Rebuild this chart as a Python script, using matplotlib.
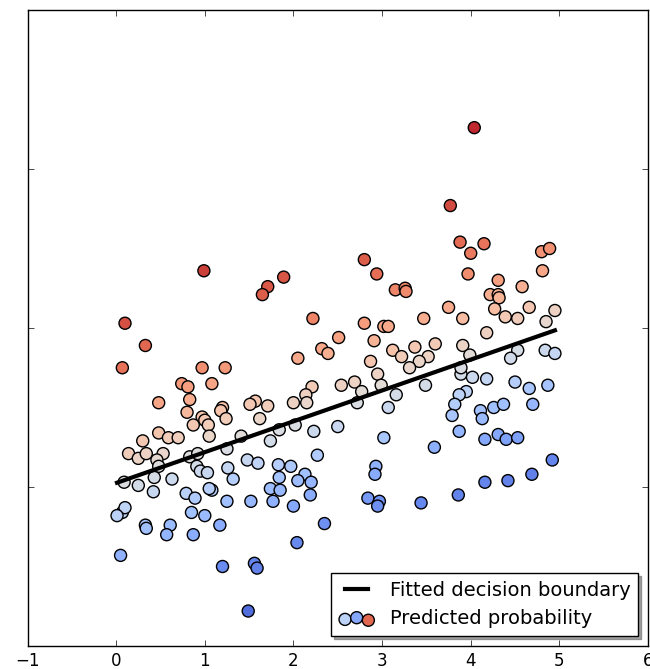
import numpy as np
import matplotlib
matplotlib.use('Agg')
import matplotlib.pyplot as plt

plt.style.use('classic')

# points (x, y); y axis is unlabelled so units are arbitrary
x = [0.07, 2.00, 0.33,
     4.04, 3.77, 3.88, 4.15, 4.00, 4.80, 4.89, 2.80, 2.94, 3.15, 3.26, 3.27, 3.97, 4.31,
     4.22, 4.31, 4.32, 4.58, 4.81, 3.75, 3.91, 3.47, 4.27, 4.39, 4.53, 4.66, 4.85, 4.95,
     2.80, 3.02, 3.07, 2.51, 2.91, 4.18, 3.12, 3.22, 3.37, 3.60, 3.52, 3.42, 3.31, 2.87,
     2.95, 3.91, 3.99, 4.53, 4.45, 4.84, 4.95, 2.54, 2.69, 2.77, 2.99, 3.16, 3.49, 3.89,
     3.89, 4.02, 4.18, 4.50, 4.66, 4.87, 3.95, 3.87, 3.82, 3.79, 3.87, 2.72, 3.07, 4.11,
     4.26, 4.37, 4.70, 4.13, 2.50, 3.02, 3.59, 4.16, 4.31, 4.40, 4.53, 2.93, 2.92, 4.92,
     4.69, 4.42, 4.16, 3.86, 3.44, 2.84, 2.97, 2.95,
     0.99, 1.71, 1.65, 1.89, 0.10, 2.22, 0.07, 0.97, 1.23, 1.08, 2.05, 2.32, 2.39, 0.74,
     0.81, 0.83, 0.48, 2.21, 2.14, 2.15, 2.00, 1.57, 1.51, 1.71, 1.20, 0.80, 0.97, 1.00,
     1.04, 1.18, 1.24, 0.87, 1.62, 1.05, 0.48, 0.59, 0.70, 0.30, 0.14, 0.25, 0.34, 0.53,
     0.46, 1.41, 1.84, 2.02, 2.23, 1.74, 1.25, 0.83, 0.92, 0.48, 0.43, 0.25, 0.09, 0.63,
     0.42, 0.91, 0.95, 1.03, 1.26, 1.32, 1.48, 1.60, 1.83, 1.97, 1.84, 2.27, 2.13, 2.05,
     2.20, 1.74, 1.85, 2.19, 1.77, 1.52, 1.25, 1.08, 1.05, 0.79, 0.89, 0.10, 0.01, 0.33,
     0.34, 0.61, 0.57, 0.85, 1.00, 0.87, 1.17, 2.35, 2.04, 0.05, 1.20, 1.56, 1.59, 1.49]
y = [-0.16, -0.12, 0.89,
     2.26, 1.77, 1.54, 1.53, 1.47, 1.48, 1.50, 1.43, 1.34, 1.24, 1.25, 1.23, 1.34, 1.30,
     1.21, 1.21, 1.19, 1.26, 1.36, 1.13, 1.06, 1.06, 1.12, 1.07, 1.06, 1.13, 1.04, 1.11,
     1.03, 1.01, 1.01, 0.94, 0.92, 0.97, 0.86, 0.82, 0.88, 0.90, 0.82, 0.79, 0.75, 0.79,
     0.71, 0.89, 0.83, 0.86, 0.81, 0.86, 0.84, 0.64, 0.66, 0.60, 0.64, 0.58, 0.64, 0.71,
     0.75, 0.69, 0.68, 0.66, 0.62, 0.64, 0.60, 0.58, 0.52, 0.45, 0.35, 0.53, 0.50, 0.48,
     0.50, 0.52, 0.52, 0.43, 0.38, 0.31, 0.25, 0.30, 0.33, 0.30, 0.31, 0.13, 0.08, 0.17,
     0.08, 0.04, 0.03, -0.05, -0.10, -0.07, -0.09, -0.12,
     1.36, 1.26, 1.21, 1.32, 1.03, 1.06, 0.75, 0.75, 0.75, 0.65, 0.81, 0.87, 0.84, 0.65,
     0.63, 0.55, 0.53, 0.63, 0.58, 0.53, 0.53, 0.54, 0.52, 0.51, 0.50, 0.47, 0.44, 0.42,
     0.39, 0.48, 0.43, 0.39, 0.43, 0.32, 0.34, 0.31, 0.31, 0.29, 0.21, 0.18, 0.21, 0.21,
     0.17, 0.32, 0.36, 0.39, 0.35, 0.29, 0.24, 0.19, 0.21, 0.13, 0.06, 0.01, 0.03, 0.05,
     -0.03, 0.13, 0.10, 0.09, 0.12, 0.05, 0.17, 0.15, 0.14, 0.13, 0.06, 0.20, 0.08, 0.04,
     0.03, -0.01, -0.02, -0.05, -0.09, -0.09, -0.09, -0.02, -0.01, -0.04, -0.07, -0.13, -0.18, -0.24,
     -0.26, -0.24, -0.30, -0.16, -0.18, -0.30, -0.24, -0.23, -0.35, -0.43, -0.50, -0.48, -0.51, -0.78]

# fitted boundary: y = intercept + slope * x, and steepness of the logistic fit
intercept = 0.025
slope = 0.194
steepness = 2.3

x = np.array(x)
y = np.array(y)
# predicted probability from the fitted logistic model
prob = 1.0 / (1.0 + np.exp(-steepness * (y - (intercept + slope * x))))

fig = plt.figure(figsize=(6.5, 6.69), dpi=100, facecolor='white')
ax = fig.add_axes([27.5 / 650, 23 / 669, 620.5 / 650, 636 / 669])

sc = ax.scatter(x, y, c=prob, cmap='coolwarm', vmin=0, vmax=1, s=75,
                edgecolors='k', linewidths=1, zorder=2)
xs = np.array([x.min(), x.max()])
ln, = ax.plot(xs, intercept + slope * xs, 'k-', lw=3, zorder=3)

ax.set_xlim(-1, 6)
ax.set_ylim(-1, 3)
ax.set_yticks([-1, 0, 1, 2, 3])
ax.set_yticklabels([])
ax.legend([ln, sc], ['Fitted decision boundary', 'Predicted probability'],
          loc='lower right', shadow=True, fontsize=14, handlelength=1.8)

fig.savefig('out.png', dpi=100, facecolor='white')
